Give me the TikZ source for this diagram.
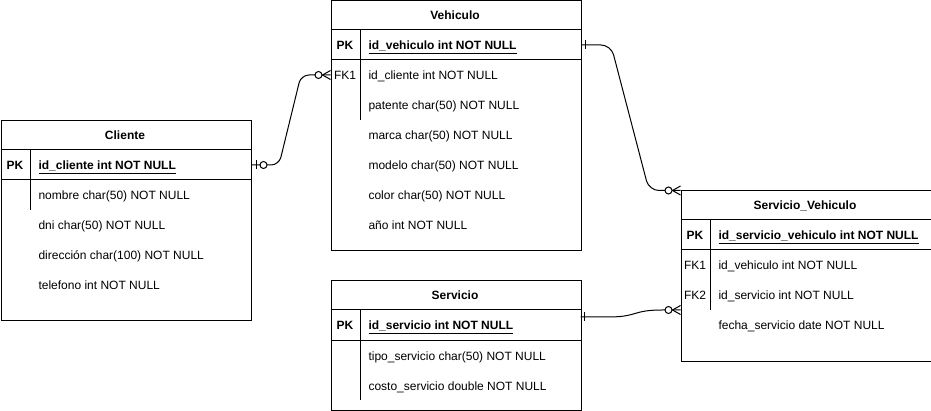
\documentclass[tikz,border=0pt]{standalone}
\usepackage{fontspec}
\setmainfont{Liberation Sans}
\begin{document}
\begin{tikzpicture}[x=1pt, y=-1pt, line width=1pt,
		tabla/.style={draw, anchor=north west, minimum width=250pt, inner sep=0pt},
		titulo/.style={font=\fontsize{12}{14}\selectfont\bfseries, text height=10pt, text depth=0pt, inner sep=0pt},
		clave/.style={font=\fontsize{12}{14}\selectfont, text height=10pt, text depth=0pt, inner sep=0pt},
		campo/.style={anchor=west, font=\fontsize{12}{14}\selectfont, text height=10pt, text depth=0pt, inner sep=0pt},
		uno/.pic={\draw (4,-4.5) -- (4,4.5);},
		cerouno/.pic={\draw (4.5,-4.5) -- (4.5,4.5); \draw [fill=white] (12,0) circle (3.5pt);},
		ceromuchos/.pic={\draw (0,-4.5) -- (8,0) -- (0,4.5); \draw [fill=white] (12,0) circle (3.5pt);}]
		\useasboundingbox (0,0) rectangle (931,411);
		\node [tabla, minimum height=200pt](cliente) at (0.5,120.5) {};
		\draw (0.5,150) -- (250.5,150);
		\draw (0.5,180) -- (250.5,180);
		\draw (30,150) -- (30,210);
		\node [titulo](cli_t) at (125,135) {Cliente};
		\node [clave, font=\fontsize{12}{14}\selectfont\bfseries](cli_k1) at (15,165) {PK};
		\node [campo, font=\fontsize{12}{14}\selectfont\bfseries](cli_pk) at (38,165) {\underline{id\_cliente int NOT NULL}};
		\node [campo](cli_f1) at (38,195) {nombre char(50) NOT NULL};
		\node [campo](cli_f2) at (38,225) {dni char(50) NOT NULL};
		\node [campo](cli_f3) at (38,255) {dirección char(100) NOT NULL};
		\node [campo](cli_f4) at (38,285) {telefono int NOT NULL};
		\node [tabla, minimum height=250pt](vehiculo) at (330.5,0.5) {};
		\draw (330.5,30) -- (580.5,30);
		\draw (330.5,60) -- (580.5,60);
		\draw (360,30) -- (360,120);
		\node [titulo](veh_t) at (455,15) {Vehiculo};
		\node [clave, font=\fontsize{12}{14}\selectfont\bfseries](veh_k1) at (345,45) {PK};
		\node [clave](veh_k2) at (345,75) {FK1};
		\node [campo, font=\fontsize{12}{14}\selectfont\bfseries](veh_pk) at (368,45) {\underline{id\_vehiculo int NOT NULL}};
		\node [campo](veh_f1) at (368,75) {id\_cliente int NOT NULL};
		\node [campo](veh_f2) at (368,105) {patente char(50) NOT NULL};
		\node [campo](veh_f3) at (368,135) {marca char(50) NOT NULL};
		\node [campo](veh_f4) at (368,165) {modelo char(50) NOT NULL};
		\node [campo](veh_f5) at (368,195) {color char(50) NOT NULL};
		\node [campo](veh_f6) at (368,225) {año int NOT NULL};
		\node [tabla, minimum height=129pt](servicio) at (330.5,280.5) {};
		\draw (330.5,310) -- (580.5,310);
		\draw (330.5,340) -- (580.5,340);
		\draw (360,310) -- (360,400);
		\node [titulo](ser_t) at (455,295) {Servicio};
		\node [clave, font=\fontsize{12}{14}\selectfont\bfseries](ser_k1) at (345,325) {PK};
		\node [campo, font=\fontsize{12}{14}\selectfont\bfseries](ser_pk) at (368,325) {\underline{id\_servicio int NOT NULL}};
		\node [campo](ser_f1) at (368,355) {tipo\_servicio char(50) NOT NULL};
		\node [campo](ser_f2) at (368,385) {costo\_servicio double NOT NULL};
		\node [tabla, minimum height=170pt](serv_veh) at (680.5,190.5) {};
		\draw (680.5,220) -- (930.5,220);
		\draw (680.5,250) -- (930.5,250);
		\draw (710,220) -- (710,310);
		\node [titulo](sv_t) at (805,205) {Servicio\_Vehiculo};
		\node [clave, font=\fontsize{12}{14}\selectfont\bfseries](sv_k1) at (695,235) {PK};
		\node [clave](sv_k2) at (695,265) {FK1};
		\node [clave](sv_k3) at (695,295) {FK2};
		\node [campo, font=\fontsize{12}{14}\selectfont\bfseries](sv_pk) at (718,235) {\underline{id\_servicio\_vehiculo int NOT NULL}};
		\node [campo](sv_f1) at (718,265) {id\_vehiculo int NOT NULL};
		\node [campo](sv_f2) at (718,295) {id\_servicio int NOT NULL};
		\node [campo](sv_f3) at (718,325) {fecha\_servicio date NOT NULL};
		\coordinate (cli_out) at (cliente.east |- cli_pk);
		\coordinate (veh_in) at (vehiculo.west |- veh_f1);
		\coordinate (veh_out) at (vehiculo.east |- veh_pk);
		\coordinate (sv_in1) at (serv_veh.north west);
		\coordinate (ser_out) at (580.5,317);
		\coordinate (sv_in2) at (680.5,310);
		\draw [rounded corners=8pt] (cli_out) -- (279,165) -- (301,75) -- (veh_in);
		\draw [rounded corners=10pt] (veh_out) -- (611,45) -- (649,190.5) -- (sv_in1);
		\draw (ser_out) -- (608,317) .. controls (638,317) and (632,310) .. (662,310) -- (sv_in2);
		\pic at (cli_out) {cerouno};
		\pic [xscale=-1] at (veh_in) {ceromuchos};
		\pic at (veh_out) {uno};
		\pic [xscale=-1] at (sv_in1) {ceromuchos};
		\pic at (ser_out) {uno};
		\pic [xscale=-1] at (sv_in2) {ceromuchos};
		\end{tikzpicture}
\end{document}
